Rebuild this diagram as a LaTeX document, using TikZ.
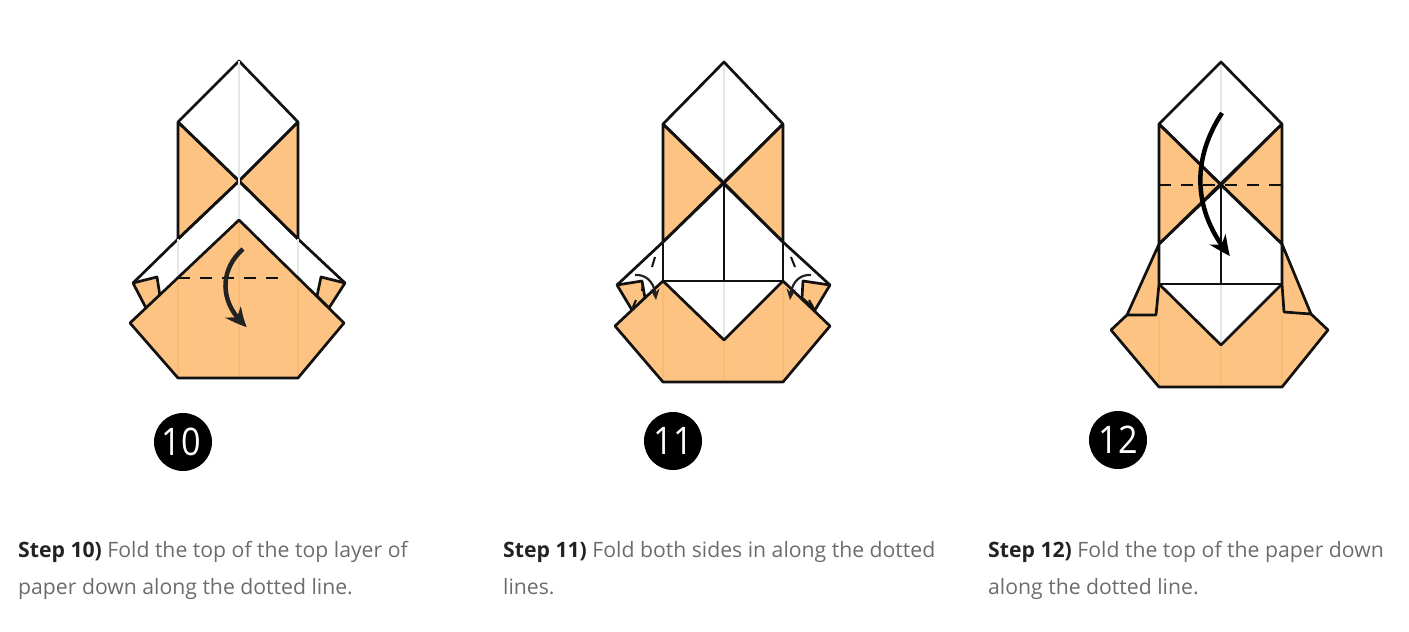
\documentclass[tikz,border=0pt]{standalone}
\usepackage{fontspec}
\setmainfont{Open Sans}
\usetikzlibrary{arrows.meta,bending}
\definecolor{org}{HTML}{FDC382}
\definecolor{orgc}{HTML}{F7BA77}
\definecolor{crease}{HTML}{E6E6E6}
\definecolor{bodyc}{HTML}{6C6C6C}
\definecolor{boldc}{HTML}{222222}
\definecolor{ink}{HTML}{111111}
\tikzset{
 pen/.style={draw=ink,line width=2.7pt,line join=round},
 paper/.style={pen,fill=org},
 creasew/.style={draw=crease,line width=2.4pt},
 creaseo/.style={draw=orgc,line width=2.4pt},
 fold/.style={draw=ink,line width=2.4pt,dash pattern=on 11.5pt off 10.5pt},
 tick/.style={draw=ink,line width=2pt},
 movearrow/.style={draw=boldc,line width=4.5pt,-{Stealth[length=21pt,width=19pt,bend]}},
 tinyarrow/.style={draw=boldc,line width=2.2pt,-{Stealth[length=11pt,width=9pt]}},
 badge/.style={circle,fill=black,minimum size=58pt,inner sep=0pt,text=white,font=\fontsize{38}{38}\selectfont},
 caption/.style={anchor=base west,text=bodyc,font=\fontsize{21.2}{21.2}\selectfont,inner sep=0pt},
}
\newcommand{\stp}[1]{\textbf{\textcolor{boldc}{#1}}}
\newcommand{\num}[1]{\scalebox{.9}[1]{#1}}
\begin{document}
\begin{tikzpicture}[x=1pt,y=-1pt]
\useasboundingbox (0,0) rectangle (1409,632);
% ---------- step 10
\path[paper] (178,122) -- (239,181) -- (178,239) -- cycle;
\path[paper] (298,122) -- (239,181) -- (298,239) -- cycle;
\path[paper] (133,283) -- (157,277) -- (160,296) -- (146,308) -- cycle;
\path[paper] (345,283) -- (321,277) -- (317,296) -- (329,308) -- cycle;
\path[pen] (178,122) -- (239,61) -- (298,122);
\path[pen] (178,122) -- (239,181) -- (298,122);
\path[pen] (178,239) -- (239,181) -- (298,239);
\path[pen] (178,239) -- (133,283);
\path[pen] (298,239) -- (345,283);
\fill[org] (239,220) -- (344,323) -- (298,378) -- (178,378) -- (130,323) -- cycle;
\path[creasew] (239,61) -- (239,220);
\path[creasew] (178,239) -- (178,278);
\path[creasew] (298,239) -- (298,278);
\path[creaseo] (239,220) -- (239,378);
\path[creaseo] (178,278) -- (178,378);
\path[creaseo] (298,278) -- (298,378);
\path[pen] (178,378) -- (130,323) -- (239,220) -- (344,323) -- (298,378) -- cycle;
\path[fold] (178,278) -- (287,278);
\path[movearrow] (243,249) .. controls (219,270) and (219,304) .. (247,327);
% ---------- step 11
\path[paper] (663,124) -- (724,183) -- (663,242) -- cycle;
\path[paper] (783,124) -- (724,183) -- (783,242) -- cycle;
\path[paper] (617,285) -- (642,281) -- (645,298) -- (632,310) -- cycle;
\path[paper] (830,285) -- (803,281) -- (802,298) -- (815,310) -- cycle;
\fill[org] (663,281) -- (724,340) -- (783,281) -- (830,326) -- (783,382) -- (663,382) -- (615,326) -- cycle;
\path[creasew] (724,62) -- (724,183);
\path[creasew] (724,281) -- (724,340);
\path[creaseo] (724,340) -- (724,382);
\path[creaseo] (663,281) -- (663,382);
\path[creaseo] (783,281) -- (783,382);
\path[pen] (663,124) -- (724,62) -- (783,124);
\path[pen] (663,124) -- (783,242);
\path[pen] (783,124) -- (663,242);
\path[pen] (663,124) -- (663,281);
\path[pen] (783,124) -- (783,281);
\path[pen] (724,183) -- (724,281);
\path[pen] (663,242) -- (617,285);
\path[pen] (783,242) -- (830,285);
\path[pen] (663,281) -- (783,281);
\path[pen] (663,281) -- (724,340) -- (783,281) -- (830,326) -- (783,382) -- (663,382) -- (615,326) -- cycle;
\path[tick] (655,257) -- (652,267);
\path[tick] (791,257) -- (795,267);
\path[tick] (643,283) -- (642,291);
\path[tick] (636,300) -- (633,307);
\path[tick] (809,300) -- (813,307);
\path[tinyarrow] (635,275) .. controls (648,274) and (656,285) .. (656,300);
\path[tinyarrow] (811,275) .. controls (798,274) and (790,285) .. (790,300);
% ---------- step 12
\path[paper] (1159,124) -- (1221,185) -- (1159,244) -- cycle;
\path[paper] (1282,124) -- (1221,185) -- (1282,244) -- cycle;
\fill[org] (1159,284) -- (1221,345) -- (1282,284) -- (1328,330) -- (1282,387) -- (1159,387) -- (1111,330) -- cycle;
\path[paper] (1159,244) -- (1127,315) -- (1156,315) -- (1159,284) -- cycle;
\path[paper] (1282,244) -- (1311,314) -- (1284,312) -- (1282,284) -- cycle;
\path[creasew] (1221,62) -- (1221,185);
\path[creasew] (1221,284) -- (1221,345);
\path[creaseo] (1221,345) -- (1221,387);
\path[creaseo] (1159,316) -- (1159,387);
\path[creaseo] (1282,316) -- (1282,387);
\path[pen] (1159,124) -- (1221,62) -- (1282,124);
\path[pen] (1159,124) -- (1282,244);
\path[pen] (1282,124) -- (1159,244);
\path[pen] (1159,124) -- (1159,284);
\path[pen] (1282,124) -- (1282,284);
\path[pen] (1221,185) -- (1221,284);
\path[pen] (1159,284) -- (1282,284);
\path[pen] (1159,284) -- (1221,345) -- (1282,284);
\path[pen] (1311,314) -- (1328,330) -- (1282,387) -- (1159,387) -- (1111,330) -- (1127,315);
\path[fold] (1159,185) -- (1282,185);
\path[movearrow,draw=black] (1222,113) .. controls (1191,160) and (1193,212) .. (1230,256);
% ---------- badges
\node[badge] (b10) at (183,442) {\hspace{-3pt}\num{10}};
\node[badge] (b11) at (673,441) {\num{11}};
\node[badge] (b12) at (1118,440) {\num{12}};
% ---------- captions
\node[caption] (c10a) at (18,557.5) {\stp{Step 10)} Fold the top of the top layer of};
\node[caption] (c10b) at (18,594.5) {paper down along the dotted line.};
\node[caption] (c11a) at (503,557.5) {\stp{Step 11)} Fold both sides in along the dotted};
\node[caption] (c11b) at (503,594.5) {lines.};
\node[caption] (c12a) at (988,557.5) {\stp{Step 12)} Fold the top of the paper down};
\node[caption] (c12b) at (988,594.5) {along the dotted line.};
\end{tikzpicture}
\end{document}
